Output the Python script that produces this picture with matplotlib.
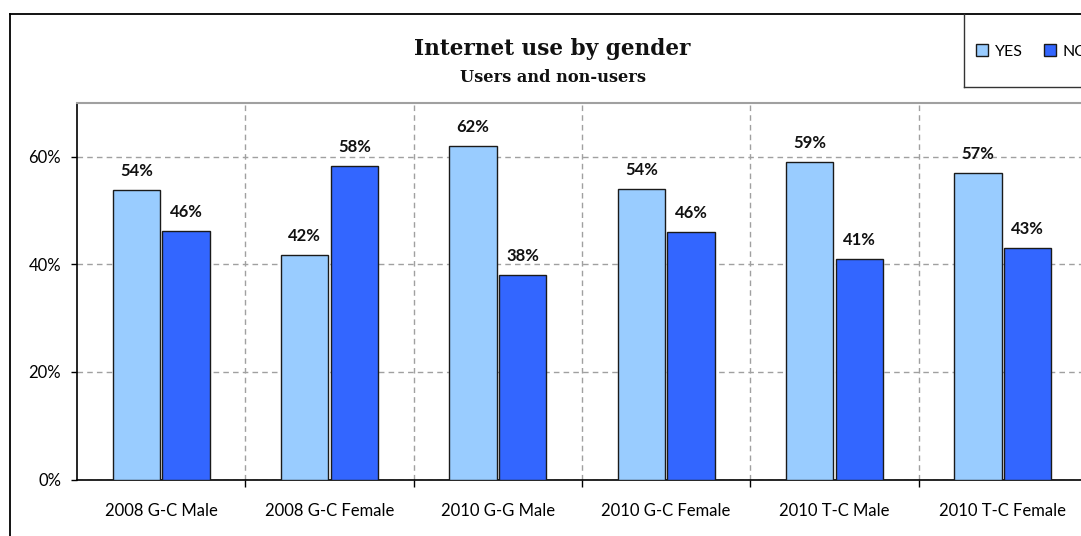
import matplotlib
matplotlib.use("Agg")
import matplotlib.pyplot as plt
from matplotlib.lines import Line2D
import numpy as np

categories = ["2008 G-C Male", "2008 G-C Female", "2010 G-G Male",
              "2010 G-C Female", "2010 T-C Male", "2010 T-C Female"]
yes_vals = [53.8, 41.7, 62.0, 54.0, 59.0, 57.0]
no_vals = [46.2, 58.3, 38.0, 46.0, 41.0, 43.0]
series_names = ["YES", "NO"]
yticks = [0, 20, 40, 60]
title = "Internet use by gender"
subtitle = "Users and non-users"

YES_C = "#99CCFF"
NO_C = "#3366FF"
SANS = ["Lato", "DejaVu Sans"]
SERIF = ["DejaVu Serif"]

W, H = 1081, 536
fig = plt.figure(figsize=(W / 100, H / 100), dpi=100)
fig.patch.set_facecolor("white")

def px(x0, y0, x1, y1):
    return [x0 / W, 1 - y1 / H, (x1 - x0) / W, (y1 - y0) / H]

ax = fig.add_axes(px(77, 102.7, 1087, 479.7))
x = np.arange(len(categories))
bw = 0.282
off = 0.148
b1 = ax.bar(x - off, yes_vals, bw, color=YES_C, edgecolor="#1a1a1a", linewidth=1.0, zorder=3)
b2 = ax.bar(x + off, no_vals, bw, color=NO_C, edgecolor="#1a1a1a", linewidth=1.0, zorder=3)

for bars, vals in ((b1, yes_vals), (b2, no_vals)):
    for rect, v in zip(bars, vals):
        ax.annotate(f"{round(v):d}%", (rect.get_x() + rect.get_width() / 2, v),
                    xytext=(0, 10), textcoords="offset points",
                    ha="center", va="baseline", fontsize=12, fontweight="bold",
                    family=SANS, color="#111111")

ax.set_xlim(-0.5, len(categories) - 0.5)
ax.set_ylim(0, 70)
ax.set_yticks(yticks)
ax.set_yticklabels([f"{t}%" for t in yticks], family=SANS, fontsize=12)
ax.tick_params(axis="y", direction="out", length=4.5, width=1, pad=7, color="black")

ax.set_xticks(np.arange(len(categories)) + 0.5)
ax.set_xticklabels([])
ax.set_xticks(x, minor=True)
ax.set_xticklabels(categories, minor=True, family=SANS, fontsize=12)
ax.tick_params(axis="x", which="major", direction="out", length=5, width=1, color="black")
ax.tick_params(axis="x", which="minor", length=0, pad=16.5)

ax.grid(True, which="major", axis="both", linestyle=(0, (4, 3)), color="#a0a0a0", linewidth=1.0, zorder=0)
ax.set_axisbelow(True)
for s in ("left", "bottom"):
    ax.spines[s].set_color("black")
    ax.spines[s].set_linewidth(1.2)
ax.spines["top"].set_color("#a0a0a0")
ax.spines["top"].set_linewidth(1.5)
ax.spines["right"].set_visible(False)

# titles
fig.text(552 / W, 1 - 55 / H, title, ha="center", va="baseline",
         fontsize=15.6, fontweight="bold", family=SERIF, color="#111111")
fig.text(553 / W, 1 - 82 / H, subtitle, ha="center", va="baseline",
         fontsize=11.7, fontweight="bold", family=SERIF, color="#111111")

# chart border
fig.add_artist(Line2D([9.5 / W, 9.5 / W], [0, 1 - 13.5 / H], color="black", linewidth=1.3, transform=fig.transFigure))
fig.add_artist(Line2D([9.5 / W, 1], [1 - 13.5 / H, 1 - 13.5 / H], color="black", linewidth=1.3, transform=fig.transFigure))
# legend box
fig.add_artist(Line2D([964 / W, 964 / W], [1 - 13.5 / H, 1 - 87 / H], color="#333333", linewidth=1.0, transform=fig.transFigure))
fig.add_artist(Line2D([964 / W, 1], [1 - 87 / H, 1 - 87 / H], color="#333333", linewidth=1.0, transform=fig.transFigure))

handles = [plt.Rectangle((0, 0), 1, 1, facecolor=YES_C, edgecolor="#1a1a1a", linewidth=1.0),
           plt.Rectangle((0, 0), 1, 1, facecolor=NO_C, edgecolor="#1a1a1a", linewidth=1.0)]
fig.legend(handles, series_names, loc="center left", bbox_to_anchor=(976 / W, 1 - 51.5 / H),
           ncol=2, frameon=False, prop={"family": SANS, "size": 11.5},
           handlelength=0.75, handleheight=0.75, handletextpad=0.45, columnspacing=1.3,
           borderpad=0, borderaxespad=0)

fig.savefig("out.png", dpi=100, facecolor="white")
